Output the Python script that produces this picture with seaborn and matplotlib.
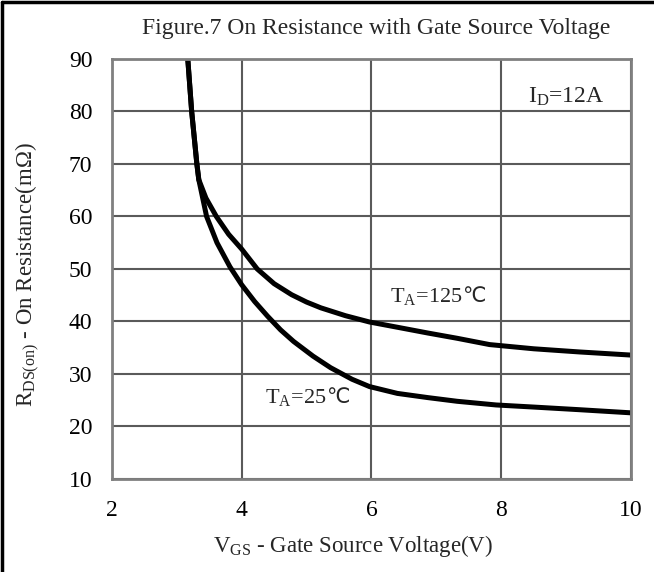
"""
Figure.7 导通电阻随栅源电压变化曲线（数据手册复刻）。
"""

import matplotlib
matplotlib.use("Agg")
import matplotlib.pyplot as plt
import pandas as pd
import seaborn as sns
from matplotlib.lines import Line2D

# 读图估计的数据点
vgs_125 = [3.17, 3.23, 3.31, 3.34, 3.45, 3.61, 3.8, 4.0, 4.24, 4.5, 4.77, 5.0, 5.22, 5.6, 5.97, 6.4, 6.87, 7.32, 7.82, 8.5, 9.2, 10.0]
rds_125 = [90.0, 80.0, 70.0, 67.0, 63.5, 60.0, 56.6, 53.8, 50.0, 47.2, 45.1, 43.7, 42.6, 41.1, 39.9, 38.9, 37.8, 36.8, 35.6, 34.8, 34.2, 33.6]
vgs_25 = [3.17, 3.23, 3.31, 3.34, 3.46, 3.62, 3.82, 4.0, 4.2, 4.4, 4.6, 4.8, 5.1, 5.37, 5.7, 5.97, 6.4, 6.87, 7.32, 7.92, 8.5, 9.2, 10.0]
rds_25 = [90.0, 80.0, 70.0, 67.0, 60.0, 55.0, 50.4, 47.0, 43.8, 41.0, 38.4, 36.2, 33.4, 31.2, 29.0, 27.6, 26.3, 25.5, 24.8, 24.1, 23.7, 23.2, 22.6]

x_ticks = [2, 4, 6, 8, 10]
y_ticks = [10, 20, 30, 40, 50, 60, 70, 80, 90]

TITLE = "Figure.7 On Resistance with Gate Source Voltage"
X_LABEL = r"V$_\mathrm{GS}$ - Gate Source Voltage(V)"
Y_LABEL = r"R$_\mathrm{DS(on)}$ - On Resistance(m$\Omega$)"


def build_frame():
    df_125 = pd.DataFrame({"vgs": vgs_125, "rds": rds_125, "temp": "125"})
    df_25 = pd.DataFrame({"vgs": vgs_25, "rds": rds_25, "temp": "25"})
    return pd.concat([df_125, df_25], ignore_index=True)


def label_temp(ax, x, y, value):
    # Liberation Serif 没有 ℃，拆成两段，℃ 用 DejaVu Sans
    ax.text(x, y, r"T$_\mathrm{A}$=" + value, fontsize=16, ha="right", va="baseline")
    ax.text(x, y, "℃", fontsize=15, ha="left", va="baseline", family="DejaVu Sans")


def main():
    sns.set_theme(style="white")
    plt.rcParams["font.family"] = ["Liberation Serif", "DejaVu Sans"]
    plt.rcParams["mathtext.fontset"] = "custom"
    plt.rcParams["mathtext.rm"] = "Liberation Serif"
    plt.rcParams["mathtext.it"] = "Liberation Serif:italic"

    fig = plt.figure(figsize=(6.54, 5.72), dpi=100)
    ax = fig.add_axes([0.171, 0.1626, 0.794, 0.7343])

    sns.lineplot(data=build_frame(), x="vgs", y="rds", hue="temp", palette={"125": "black", "25": "black"},
                 linewidth=3.6, legend=False, ax=ax, sort=False)

    ax.set_xlim(2, 10); ax.set_ylim(10, 90)
    ax.set_xticks(x_ticks); ax.set_yticks(y_ticks)
    ax.set_xlabel(""); ax.set_ylabel("")
    ax.tick_params(axis="both", length=0, labelsize=17, colors="black")
    ax.tick_params(axis="x", pad=15); ax.tick_params(axis="y", pad=14)
    ax.grid(True, color="#5a5a5a", linewidth=1.5)
    for spine in ax.spines.values():
        spine.set_color("#808080"); spine.set_linewidth(2)

    ax.text(9.0, 82.8, r"I$_\mathrm{D}$=12A", fontsize=17, ha="center", va="center")
    label_temp(ax, 7.4, 43.7, "125")
    label_temp(ax, 5.3, 24.5, "25")

    fig.text(0.575, 0.951, TITLE, fontsize=17, ha="center", va="center")
    fig.text(0.54, 0.046, X_LABEL, fontsize=16.5, ha="center", va="center")
    fig.text(0.043, 0.52, Y_LABEL, fontsize=16.5, ha="center", va="center", rotation=90)

    # 外框只有左边和上边
    fig.add_artist(Line2D([0.003, 0.003], [0.0, 0.997], transform=fig.transFigure, color="black", linewidth=2.5))
    fig.add_artist(Line2D([0.003, 1.0], [0.997, 0.997], transform=fig.transFigure, color="black", linewidth=2.5))

    fig.savefig("out.png", dpi=100)
    plt.close(fig)


if __name__ == "__main__":
    main()
